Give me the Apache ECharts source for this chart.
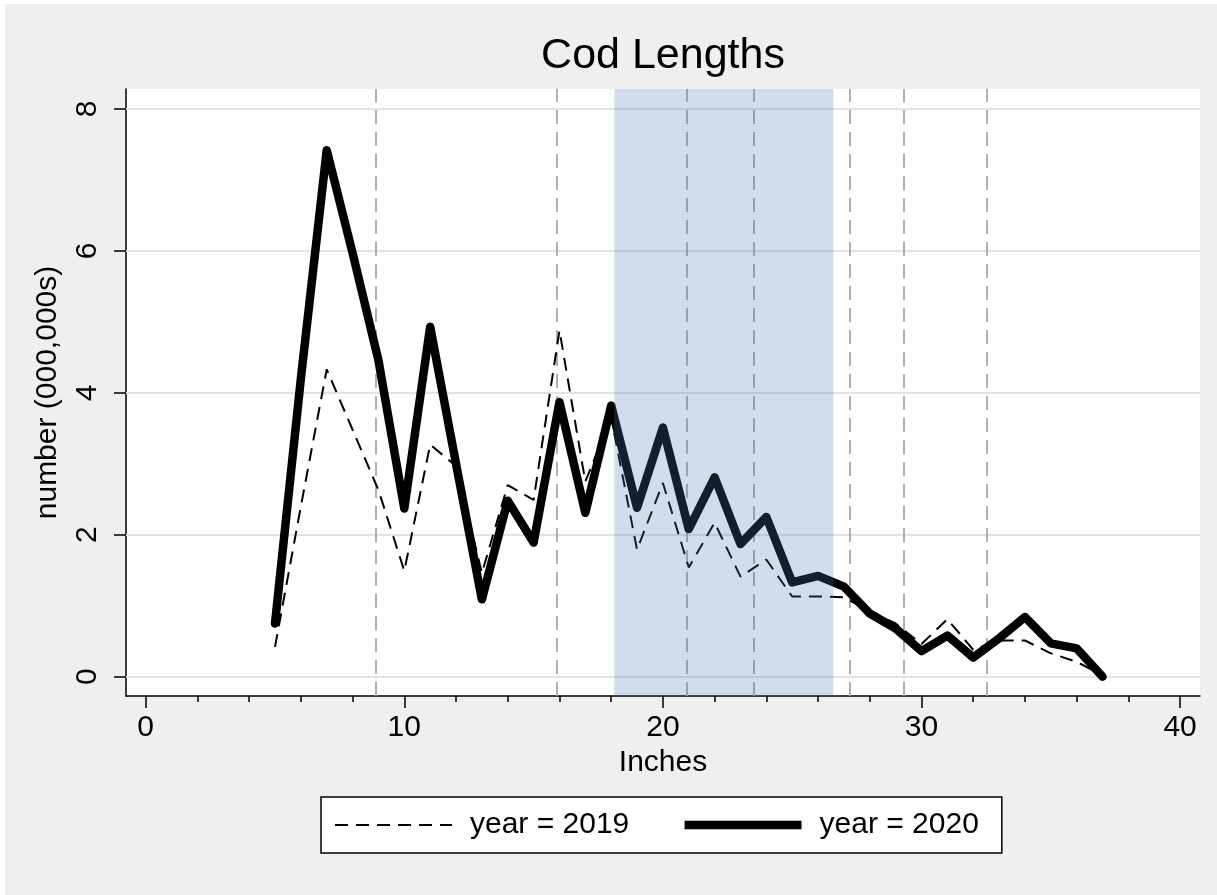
<!DOCTYPE html>
<html>
<head>
<meta charset="utf-8">
<script src="https://cdn.jsdelivr.net/npm/echarts@6/dist/echarts.min.js"></script>
<style>
html,body{margin:0;padding:0;background:#ffffff;}
#c{position:absolute;left:5px;top:4px;width:1212px;height:891px;}
</style>
</head>
<body>
<div id="c"></div>
<script>
// ---- data ----
const inches = [5,6,7,8,9,10,11,12,13,14,15,16,17,18,19,20,21,22,23,24,25,26,27,28,29,30,31,32,33,34,35,36,37];
const y2019 = [0.42,2.40,4.33,3.48,2.63,1.49,3.27,2.97,1.46,2.70,2.49,4.88,2.75,3.65,1.79,2.73,1.54,2.17,1.41,1.65,1.13,1.13,1.12,0.92,0.75,0.46,0.81,0.38,0.51,0.51,0.33,0.21,0.02];
const y2020 = [0.75,4.20,7.42,5.97,4.46,2.37,4.93,3.00,1.09,2.48,1.89,3.87,2.31,3.82,2.38,3.51,2.08,2.81,1.87,2.25,1.33,1.42,1.27,0.89,0.68,0.36,0.58,0.27,0.54,0.84,0.47,0.40,0.00];
const refLines = [8.90,15.90,20.91,23.50,27.22,29.30,32.51];
const shadeRange = [18.12,26.59];
const xMajorTicks = [0,10,20,30,40];
const xMinorTicks = [2,4,6,8,12,14,16,18,22,24,26,28,32,34,36,38];
const yTicks = [0,2,4,6,8];
const seriesNames = ['year = 2019','year = 2020'];

const FONT = "'Liberation Sans', Arial, Helvetica, sans-serif";
const pairs = ys => inches.map((x,i)=>[x, ys[i]]);
const XMIN = -0.762, XMAX = 40.77, YMIN = -0.272, YMAX = 8.282;

const chart = echarts.init(document.getElementById('c'), null, {renderer:'canvas'});
const option = {
  backgroundColor: '#efefef',
  animation: false,
  title: {
    text: 'Cod Lengths', left: 653, top: 26, textAlign: 'center',
    textStyle: {fontSize: 43, fontWeight: 'normal', color: '#000', fontFamily: FONT}
  },
  grid: {left: 121, right: 17, top: 85, bottom: 199, show: true, backgroundColor: '#ffffff', borderWidth: 0},
  legend: {
    data: seriesNames, left: 316, top: 793, orient: 'horizontal',
    padding: [13, 23, 13, 13], itemWidth: 117, itemHeight: 10, itemGap: 51,
    backgroundColor: '#ffffff', borderColor: '#000', borderWidth: 1.5,
    lineStyle: {cap: 'butt', width: 'inherit'},
    itemStyle: {color: 'rgba(0,0,0,0)', borderWidth: 0, opacity: 0},
    textStyle: {fontSize: 30, color: '#000', fontFamily: FONT, padding: [0,0,0,13]}
  },
  xAxis: [{
    type: 'value', min: XMIN, max: XMAX, gridIndex: 0,
    name: 'Inches', nameLocation: 'middle', nameGap: 52,
    nameTextStyle: {fontSize: 30, color: '#000', fontFamily: FONT},
    axisLine: {show: true, onZero: false, lineStyle: {color: '#000', width: 1.5}},
    axisTick: {show: true, customValues: xMajorTicks, length: 12, lineStyle: {color: '#000', width: 1.5}},
    axisLabel: {show: true, customValues: xMajorTicks, fontSize: 30, color: '#000', fontFamily: FONT, margin: 17},
    splitLine: {show: false}
  }, {
    type: 'value', min: XMIN, max: XMAX, gridIndex: 0, position: 'bottom',
    axisLine: {show: false, onZero: false},
    axisTick: {show: true, customValues: xMinorTicks, length: 6, lineStyle: {color: '#000', width: 1.5}},
    axisLabel: {show: false},
    splitLine: {show: false}
  }],
  yAxis: {
    type: 'value', min: YMIN, max: YMAX,
    name: 'number (000,000s)', nameLocation: 'middle', nameGap: 63,
    nameTextStyle: {fontSize: 30, color: '#000', fontFamily: FONT},
    axisLine: {show: true, onZero: false, lineStyle: {color: '#000', width: 1.5}},
    axisTick: {show: true, customValues: yTicks, length: 12, lineStyle: {color: '#000', width: 1.5}},
    axisLabel: {show: true, customValues: yTicks, rotate: 90, fontSize: 30, color: '#000', fontFamily: FONT, margin: 23},
    splitLine: {show: false}
  },
  series: [
    {
      type: 'line', data: [], silent: true, z: 1,
      markLine: {
        silent: true, z: 1, symbol: ['none','none'], label: {show: false},
        lineStyle: {color: '#e3e3e3', width: 2, type: 'solid'},
        emphasis: {disabled: true},
        data: yTicks.map(v => ({yAxis: v}))
      }
    },
    {
      type: 'line', data: [], silent: true, z: 2,
      markLine: {
        silent: true, z: 2, symbol: ['none','none'], label: {show: false},
        lineStyle: {color: '#a8a8a8', width: 1.8, type: [14, 8]},
        emphasis: {disabled: true},
        data: refLines.map(v => ({xAxis: v}))
      }
    },
    {
      name: seriesNames[0], type: 'line', data: pairs(y2019), z: 3,
      symbol: 'none', color: '#000',
      lineStyle: {color: '#000', width: 2, type: [13, 8]}
    },
    {
      name: seriesNames[1], type: 'line', data: pairs(y2020), z: 4,
      symbol: 'none', color: '#000',
      lineStyle: {color: '#000', width: 8.5, type: 'solid', cap: 'round', join: 'round'}
    },
    {
      type: 'line', data: [], silent: true, z: 10,
      markArea: {
        silent: true, z: 10,
        itemStyle: {color: 'rgba(76,120,180,0.25)'},
        emphasis: {disabled: true},
        data: [[{xAxis: shadeRange[0]}, {xAxis: shadeRange[1]}]]
      }
    }
  ]
};
chart.setOption(option);
</script>
</body>
</html>
